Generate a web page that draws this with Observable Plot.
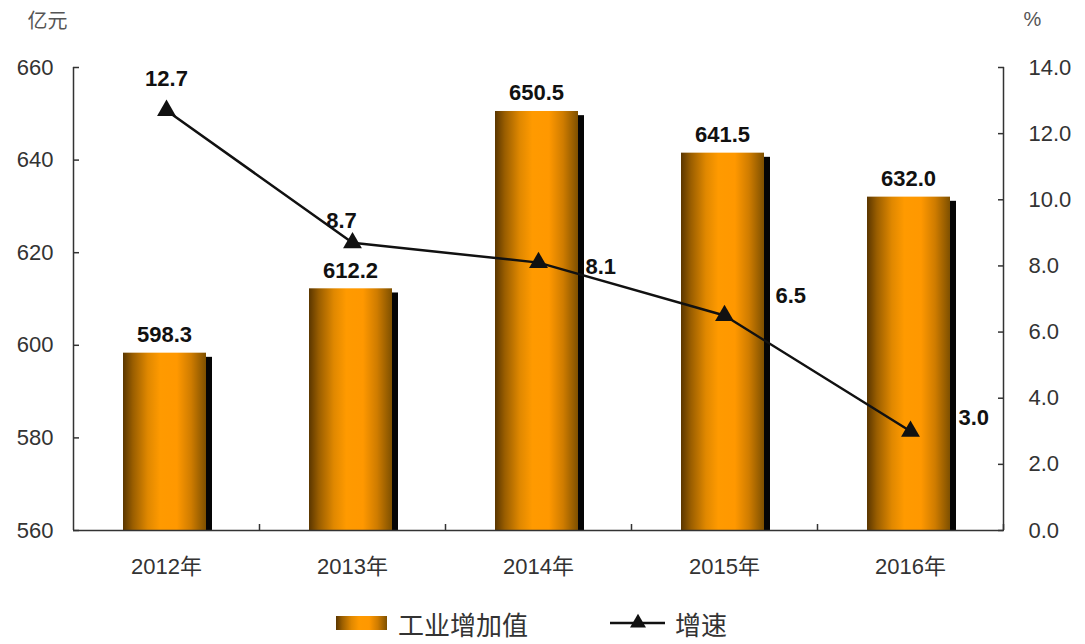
<!DOCTYPE html>
<html><head><meta charset="utf-8">
<script src="https://cdn.jsdelivr.net/npm/d3@7"></script>
<script src="https://cdn.jsdelivr.net/npm/@observablehq/plot@0.6"></script>
<style>
html,body{margin:0;padding:0;background:#fff;}
#chart{width:1085px;}
#chart svg{display:block;}
</style></head>
<body><div id="chart"></div>
<script>
// ---- data ----
const years = ["2012年", "2013年", "2014年", "2015年", "2016年"];
const industryValue = [598.3, 612.2, 650.5, 641.5, 632.0];
const growthRate = [12.7, 8.7, 8.1, 6.5, 3.0];
const leftTicks = [560, 580, 600, 620, 640, 660];
const rightTicks = [0, 2, 4, 6, 8, 10, 12, 14];
const leftDomain = [560, 660];
const rightDomain = [0, 14];
const seriesNames = ["工业增加值", "增速"];
const unitLeft = "亿元";
const unitRight = "%";

// ---- helpers ----
const k = (leftDomain[1] - leftDomain[0]) / (rightDomain[1] - rightDomain[0]);
const toLeft = v => leftDomain[0] + (v - rightDomain[0]) * k;
const fromLeft = v => rightDomain[0] + (v - leftDomain[0]) / k;

const data = years.map((year, i) => ({
  year, value: industryValue[i], growth: growthRate[i], g: toLeft(growthRate[i])
}));

const W = 1085, H = 590;
const mL = 73, mR = 82, mT = 67, mB = 60;
const halfStep = (W - mL - mR) / years.length / 2;
const font = '"Liberation Sans", Arial, "Noto Sans CJK SC", sans-serif';
const axisColor = "#333";

const growthLabelLayout = [
  {dx: 0, dy: -24, anchor: "middle"},
  {dx: -11, dy: -15, anchor: "middle"},
  {dx: 47, dy: 11, anchor: "start"},
  {dx: 51, dy: -13, anchor: "start"},
  {dx: 48, dy: -6, anchor: "start"}
];

const base = () => leftDomain[0];

const plot = Plot.plot({
  width: W, height: H,
  marginLeft: mL, marginRight: mR, marginTop: mT, marginBottom: mB,
  style: {fontFamily: font, background: "#fff", color: axisColor},
  x: {domain: years, padding: 0, label: null},
  y: {domain: leftDomain, label: null},
  marks: [
    // bar shadow
    Plot.barY(data, {x: "year", y1: base, y2: d => d.value - 0.9, fill: "#050505", insetLeft: 56, insetRight: 47}),
    // bars
    Plot.barY(data, {x: "year", y1: base, y2: "value", fill: "url(#barGrad)", insetLeft: 50, insetRight: 53}),
    // bar labels
    Plot.text(data, {x: "year", y: "value", text: d => d.value.toFixed(1), dx: -2, dy: -11, lineAnchor: "bottom",
      fontSize: 22, fontWeight: "bold", fill: "#111"}),
    // axis lines
    Plot.ruleY([leftDomain[0]], {stroke: axisColor, strokeWidth: 1.5}),
    Plot.ruleX([years[0]], {dx: -halfStep, y1: leftDomain[0], y2: leftDomain[1], stroke: axisColor, strokeWidth: 1.5}),
    Plot.ruleX([years[years.length - 1]], {dx: halfStep, y1: leftDomain[0], y2: leftDomain[1], stroke: axisColor, strokeWidth: 1.5}),
    // left axis
    Plot.axisY(leftTicks, {anchor: "left", tickSize: 0, tickPadding: 20, fontSize: 22, fill: axisColor, label: null}),
    Plot.axisY(leftTicks, {anchor: "left", tickSize: 6, dx: 6, tickFormat: () => "", stroke: axisColor, strokeWidth: 1.5, label: null}),
    // right axis
    Plot.axisY(rightTicks.map(toLeft), {anchor: "right", tickSize: 0, tickPadding: 25, fontSize: 22, fill: axisColor,
      tickFormat: d => fromLeft(d).toFixed(1), label: null}),
    Plot.axisY(rightTicks.map(toLeft), {anchor: "right", tickSize: 6, dx: -6, tickFormat: () => "", stroke: axisColor, strokeWidth: 1.5, label: null}),
    // x axis
    Plot.axisX(years, {anchor: "bottom", tickSize: 0, tickPadding: 28, fontSize: 22, fill: axisColor, label: null}),
    Plot.axisX(years, {anchor: "bottom", tickSize: 6, dx: halfStep, dy: -6, tickFormat: () => "", stroke: axisColor, strokeWidth: 1.5, label: null}),
    // growth line
    Plot.line(data, {x: "year", y: "g", stroke: "#111", strokeWidth: 2.5}),
    Plot.dot(data, {x: "year", y: "g", symbol: "triangle", r: 7, fill: "#111", stroke: "none"}),
    ...growthLabelLayout.map((p, i) => Plot.text([data[i]], {
      x: "year", y: "g", text: d => d.growth.toFixed(1), dx: p.dx, dy: p.dy, textAnchor: p.anchor,
      lineAnchor: "bottom", fontSize: 22, fontWeight: "bold", fill: "#111"
    })),
    // unit labels
    Plot.text([unitLeft], {frameAnchor: "top-left", text: d => d, dx: -26, dy: -46, fontSize: 20, fill: "#555",
      fontFamily: '"Noto Sans CJK SC", sans-serif', textAnchor: "middle", lineAnchor: "middle"}),
    Plot.text([unitRight], {frameAnchor: "top-right", text: d => d, dx: 29, dy: -48, fontSize: 20, fill: "#555",
      textAnchor: "middle", lineAnchor: "middle"})
  ]
});

const chart = document.getElementById("chart");
chart.appendChild(plot);

// ---- legend (below the SVG) ----
const legend = d3.select(chart).append("svg").attr("width", W).attr("height", 644 - H)
  .style("font-family", '"Noto Sans CJK SC", sans-serif');
const grad = legend.append("defs").append("linearGradient").attr("id", "barGrad")
  .attr("x1", 0).attr("x2", 1).attr("y1", 0).attr("y2", 0);
[[0, "#5a3600"], [0.12, "#9a5e00"], [0.3, "#e08800"], [0.45, "#ff9a00"], [0.65, "#ff9800"], [0.82, "#cf7c00"], [1, "#7e5000"]]
  .forEach(([o, c]) => grad.append("stop").attr("offset", o).attr("stop-color", c));

const ly = 33;
legend.append("rect").attr("x", 336).attr("y", ly - 7).attr("width", 51).attr("height", 14).attr("fill", "url(#barGrad)");
legend.append("text").attr("x", 398).attr("y", ly).attr("dominant-baseline", "central")
  .attr("font-size", 26).attr("fill", "#333").text(seriesNames[0]);
legend.append("line").attr("x1", 610).attr("x2", 665).attr("y1", ly).attr("y2", ly)
  .attr("stroke", "#111").attr("stroke-width", 2.5);
legend.append("path").attr("d", d3.symbol(d3.symbolTriangle, 110)()).attr("transform", `translate(638,${ly})`).attr("fill", "#111");
legend.append("text").attr("x", 675).attr("y", ly).attr("dominant-baseline", "central")
  .attr("font-size", 26).attr("fill", "#333").text(seriesNames[1]);
</script>
</body></html>
